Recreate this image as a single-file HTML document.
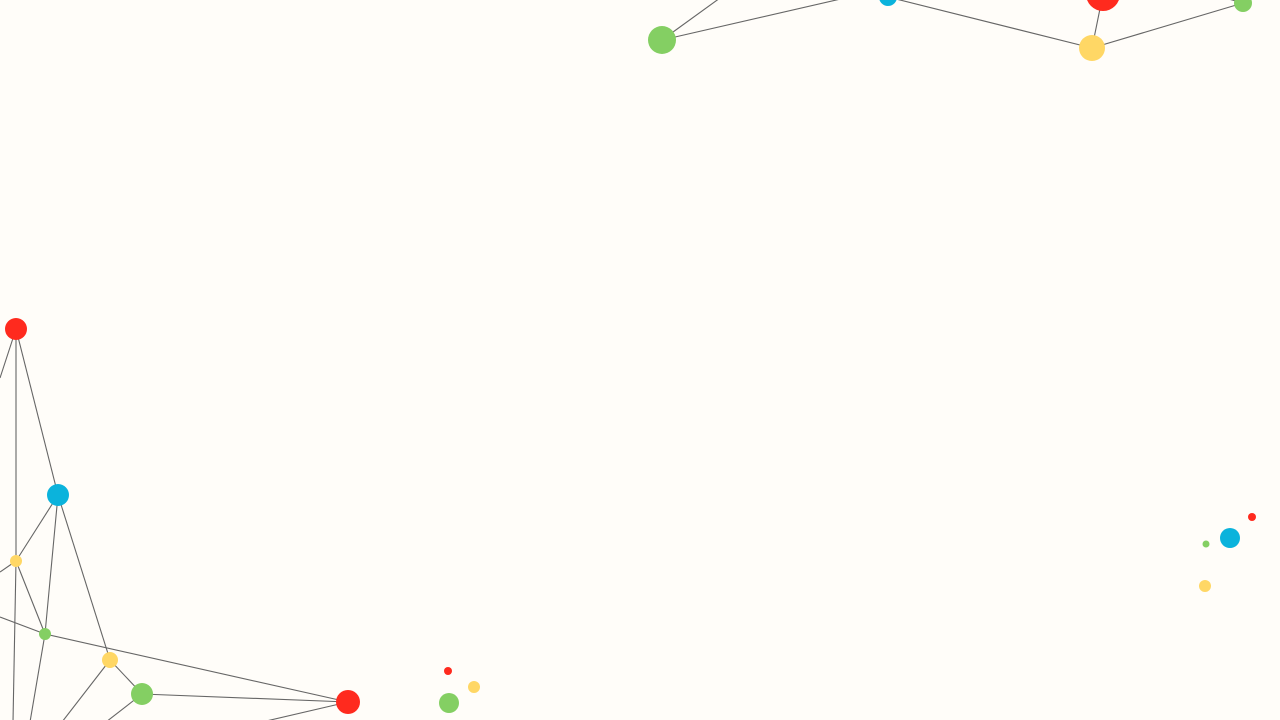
<!DOCTYPE html>
<html><head><meta charset="utf-8"><style>
html,body{margin:0;padding:0;background:#fffdf9;width:1280px;height:720px;overflow:hidden}
svg{display:block}
</style></head><body>
<svg id="net" width="1280" height="720" viewBox="0 0 1280 720"></svg>
<script>
const nodeX=[662,888,1103,1092,1243,720,845,1225,16,58,16,45,110,142,348,0,0,13,30,62,106,262,0,448,474,449,1252,1230,1206,1205];
const nodeY=[40,-3,-6,48,3,-2,-2,-2,329,495,561,634,660,694,702,378,572,722,722,722,722,722,617,671,687,703,517,538,544,586];
const nodeR=[14,9,17,13,9,0,0,0,11,11,6,6,8,11,12,0,0,0,0,0,0,0,0,4,6,10,4,10,3.5,6];
const nodeC=["g","b","r","y","g","","","","r","b","y","g","y","g","r","","","","","","","","","r","y","g","r","b","g","y"];
const edgeA=[0,0,1,2,3,4,8,8,8,9,9,9,10,10,10,11,11,22,12,12,13,13,14];
const edgeB=[5,6,3,3,4,7,15,10,9,10,11,12,16,11,17,18,14,11,13,19,14,20,21];
const colors={r:"#ff2a1e",g:"#84cf63",b:"#0bb3dc",y:"#ffd765"};
const svg=document.getElementById('net');
const NS="http://www.w3.org/2000/svg";
for(let i=0;i<edgeA.length;i++){
  const l=document.createElementNS(NS,'line');
  l.setAttribute('x1',nodeX[edgeA[i]]);l.setAttribute('y1',nodeY[edgeA[i]]);
  l.setAttribute('x2',nodeX[edgeB[i]]);l.setAttribute('y2',nodeY[edgeB[i]]);
  l.setAttribute('stroke','#666');l.setAttribute('stroke-width','1.1');
  
  
  svg.appendChild(l);
}
for(let i=0;i<nodeX.length;i++){
  if(!nodeR[i])continue;
  const c=document.createElementNS(NS,'circle');
  c.setAttribute('cx',nodeX[i]);c.setAttribute('cy',nodeY[i]);c.setAttribute('r',nodeR[i]);
  c.setAttribute('fill',colors[nodeC[i]]);
  
  
  svg.appendChild(c);
}
</script>
</body></html>
